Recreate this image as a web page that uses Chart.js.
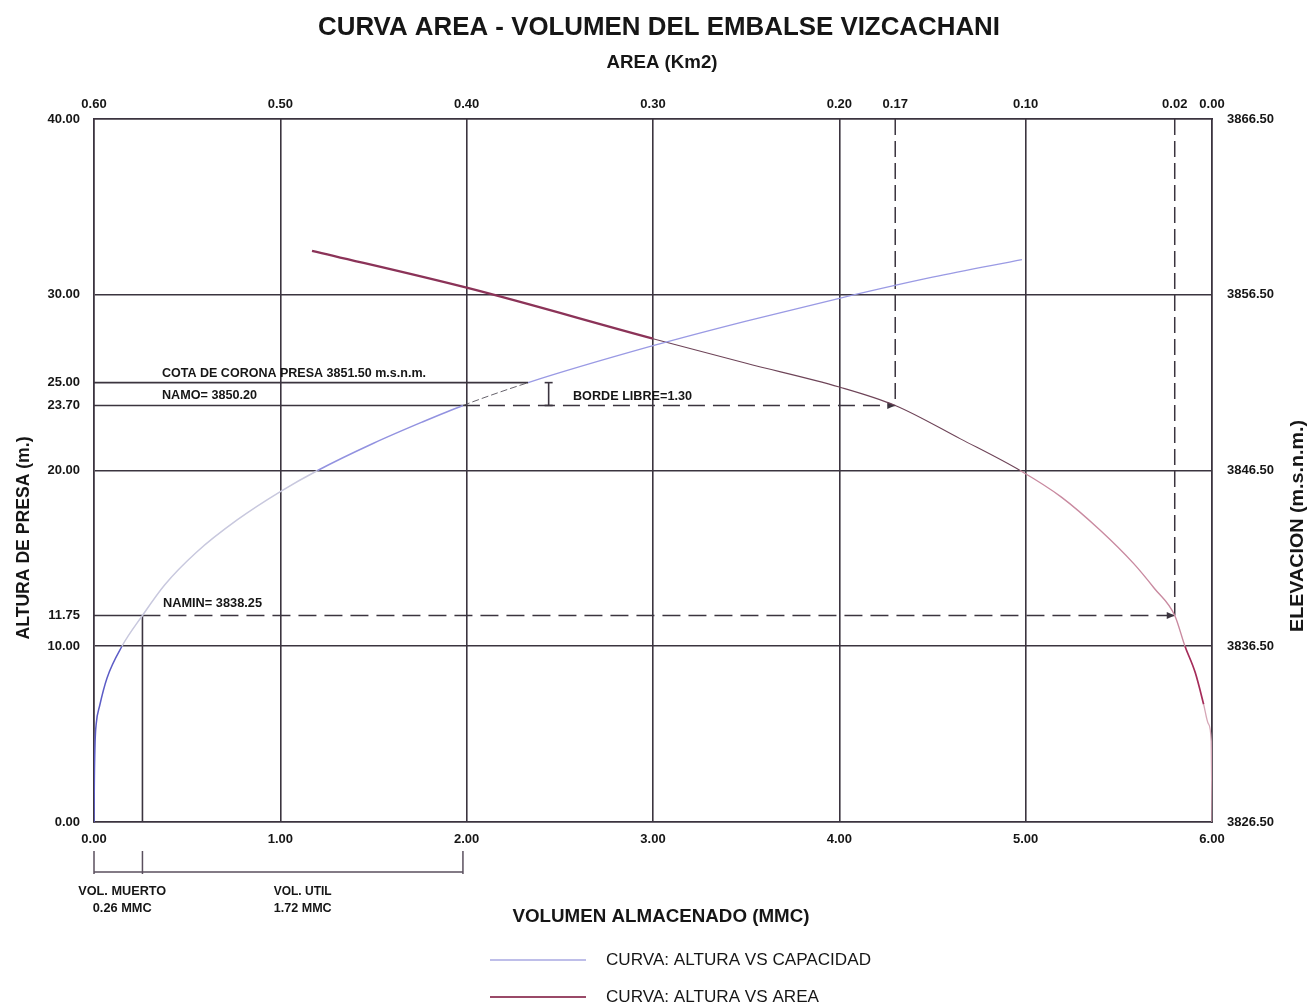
<!DOCTYPE html>
<html><head><meta charset="utf-8">
<script src="https://cdn.jsdelivr.net/npm/chart.js@4.4.1/dist/chart.umd.min.js"></script>
<style>html,body{margin:0;padding:0;background:#fff;overflow:hidden}canvas{display:block}</style>
</head><body>
<canvas id="c" width="1311" height="1007"></canvas>
<script>
// ---------- data ----------
const TITLE = 'CURVA AREA - VOLUMEN DEL EMBALSE VIZCACHANI';
const TOP_AXIS_TITLE = 'AREA (Km2)';
const BOTTOM_AXIS_TITLE = 'VOLUMEN ALMACENADO (MMC)';
const LEFT_AXIS_TITLE = 'ALTURA DE PRESA (m.)';
const RIGHT_AXIS_TITLE = 'ELEVACION (m.s.n.m.)';

const VOL_TICKS = [0, 1, 2, 3, 4, 5, 6];
const AREA_TICKS = [0.60, 0.50, 0.40, 0.30, 0.20, 0.17, 0.10, 0.02, 0.00];
const ALT_TICKS = [0, 10, 11.75, 20, 23.7, 25, 30, 40];
const ALT_GRID = [10, 20, 30];
const ELEV_TICKS = [3826.5, 3836.5, 3846.5, 3856.5, 3866.5];

// Curva altura vs capacidad (volumen MMC, altura m)
const CAP_VOL = [0, 0.002, 0.006, 0.012, 0.03, 0.07, 0.15, 0.26, 0.38, 0.55, 0.77, 1.00, 1.20, 1.50, 1.76, 1.98, 2.33, 3.00, 3.50, 4.00, 4.50, 4.98];
const CAP_H   = [0, 2.5, 4.6, 5.6, 6.6, 8.2, 10.0, 11.75, 13.5, 15.35, 17.2, 18.8, 20.0, 21.55, 22.75, 23.7, 25.0, 27.1, 28.5, 29.8, 31.0, 32.0];

// Curva altura vs area (area Km2, altura m)
const AREA_KM2 = [0.000, 0.0004, 0.002, 0.0045, 0.009, 0.0145, 0.020, 0.031, 0.042, 0.060, 0.081, 0.103, 0.135, 0.170, 0.200, 0.250, 0.300, 0.400, 0.483];
const AREA_H   = [0.0, 4.6, 5.6, 6.7, 8.5, 10.0, 11.75, 13.3, 14.7, 16.6, 18.5, 20.0, 21.8, 23.7, 24.75, 26.1, 27.5, 30.4, 32.5];

// niveles caracteristicos
const CORONA_H = 25.0, CORONA_VOL = 2.33;
const NAMO_H = 23.7, NAMIN_H = 11.75;
const VOL_MUERTO = 0.26, VOL_UTIL = 1.72;
const AREA_NAMO = 0.17, AREA_NAMIN = 0.02;
const COTA_CORONA = '3851.50', COTA_NAMO = '3850.20', COTA_NAMIN = '3838.25', BORDE_LIBRE = '1.30';

// ---------- style ----------
const FONT = "'Liberation Sans', Arial, sans-serif";
const GRID = '#3b343f';
const TXT = '#161616';
const CAP_COLOR = '#a4a4e4';
const AREA_COLOR = '#8b3358';

function capSeg(ctx) {
  const v = ctx.p0.parsed.x;
  if (v < 0.15) return {c: '#5c5cc6', w: 1.5};
  if (v < 1.2) return {c: '#c8c8de', w: 1.5};
  if (v < 1.98) return {c: '#9292e0', w: 1.5};
  if (v < 2.33) return {c: '#55505a', w: 0.9, d: [7, 3]};
  return {c: '#9a9ae4', w: 1.3};
}
function areaSeg(ctx) {
  const a = ctx.p0.parsed.x;
  if (a >= 0.3) return {c: '#8b3358', w: 2.3};
  if (a >= 0.1) return {c: '#6e4458', w: 1.1};
  if (a >= 0.0145) return {c: '#c98aa0', w: 1.4};
  if (a >= 0.0045) return {c: '#a52c5a', w: 1.7};
  return {c: '#d6a6b6', w: 1.3};
}

const tickFont = {family: FONT, size: 13, weight: 'bold'};

function txt(ctx, s, x, y, o) {
  ctx.save();
  ctx.font = (o.weight || 'bold') + ' ' + o.size + 'px ' + FONT;
  ctx.fillStyle = o.color || TXT;
  ctx.textBaseline = 'middle';
  ctx.textAlign = o.align || 'left';
  ctx.translate(x, y);
  if (o.rot) ctx.rotate(o.rot);
  if (o.width) { const w = ctx.measureText(s).width; ctx.scale(o.width / w, 1); }
  ctx.fillText(s, 0, 0);
  ctx.restore();
}
function seg(ctx, x1, y1, x2, y2, dash) {
  ctx.beginPath(); ctx.setLineDash(dash || []);
  ctx.moveTo(x1, y1); ctx.lineTo(x2, y2); ctx.stroke();
}

const annotations = {
  id: 'annotations',
  beforeDatasetsDraw(chart) {
    const {ctx} = chart; const s = chart.scales;
    const X = v => s.x.getPixelForValue(v), XA = a => s.xArea.getPixelForValue(a), Y = h => s.y.getPixelForValue(h);
    ctx.save();
    ctx.strokeStyle = GRID; ctx.lineWidth = 1.6;
    const volNamo = VOL_MUERTO + VOL_UTIL;
    seg(ctx, X(0), Y(CORONA_H), X(CORONA_VOL), Y(CORONA_H));
    seg(ctx, X(0), Y(NAMO_H), X(volNamo), Y(NAMO_H));
    seg(ctx, X(0), Y(NAMIN_H), X(VOL_MUERTO), Y(NAMIN_H));
    seg(ctx, X(VOL_MUERTO), Y(0), X(VOL_MUERTO), Y(NAMIN_H));
    ctx.lineWidth = 1.5;
    seg(ctx, X(volNamo), Y(NAMO_H), XA(AREA_NAMO), Y(NAMO_H), [17, 8]);
    seg(ctx, XA(AREA_NAMO), Y(40), XA(AREA_NAMO), Y(NAMO_H), [16, 6]);
    seg(ctx, X(VOL_MUERTO), Y(NAMIN_H), XA(AREA_NAMIN), Y(NAMIN_H), [18, 8]);
    seg(ctx, XA(AREA_NAMIN), Y(40), XA(AREA_NAMIN), Y(NAMIN_H), [16, 6]);
    // small arrowheads at the corners
    ctx.fillStyle = GRID; ctx.setLineDash([]);
    [[XA(AREA_NAMO), Y(NAMO_H)], [XA(AREA_NAMIN), Y(NAMIN_H)]].forEach(([px, py]) => {
      ctx.beginPath(); ctx.moveTo(px, py); ctx.lineTo(px - 8, py - 3.5); ctx.lineTo(px - 8, py + 3.5); ctx.closePath(); ctx.fill();
    });
    // borde libre bar
    const bx = X(2.44);
    ctx.lineWidth = 1.6;
    seg(ctx, bx, Y(CORONA_H), bx, Y(NAMO_H));
    seg(ctx, bx - 4, Y(CORONA_H), bx + 4, Y(CORONA_H));
    seg(ctx, bx - 4, Y(NAMO_H), bx + 4, Y(NAMO_H));
    // volume brackets below the axis
    const yb = Y(0);
    ctx.lineWidth = 1.5; ctx.strokeStyle = '#5a4f5e';
    [0, VOL_MUERTO, volNamo].forEach(v => seg(ctx, X(v), yb + 29, X(v), yb + 52));
    seg(ctx, X(0), yb + 50, X(volNamo), yb + 50);
    ctx.restore();
  },
  afterDraw(chart) {
    const {ctx} = chart; const s = chart.scales;
    const X = v => s.x.getPixelForValue(v);
    txt(ctx, TITLE, 659, 28, {size: 26, width: 682, align: 'center'});
    txt(ctx, TOP_AXIS_TITLE, 662, 63, {size: 19, width: 111, align: 'center'});
    txt(ctx, BOTTOM_AXIS_TITLE, 661, 917, {size: 19, width: 297, align: 'center'});
    txt(ctx, LEFT_AXIS_TITLE, 24, 538, {size: 18, width: 203, align: 'center', rot: -Math.PI / 2});
    txt(ctx, RIGHT_AXIS_TITLE, 1298, 526, {size: 18, width: 212, align: 'center', rot: -Math.PI / 2});
    txt(ctx, 'COTA DE CORONA PRESA ' + COTA_CORONA + ' m.s.n.m.', 162, 373, {size: 13, width: 264});
    txt(ctx, 'NAMO= ' + COTA_NAMO, 162, 395, {size: 13, width: 95});
    txt(ctx, 'BORDE LIBRE=' + BORDE_LIBRE, 573, 396, {size: 13, width: 119});
    txt(ctx, 'NAMIN= ' + COTA_NAMIN, 163, 603, {size: 13, width: 99});
    const xm = (X(0) + X(VOL_MUERTO)) / 2 + 4, xu = X(1.12);
    txt(ctx, 'VOL. MUERTO', xm, 891, {size: 13, width: 88, align: 'center'});
    txt(ctx, VOL_MUERTO.toFixed(2) + ' MMC', xm, 908, {size: 13, width: 59, align: 'center'});
    txt(ctx, 'VOL. UTIL', xu, 891, {size: 13, width: 58, align: 'center'});
    txt(ctx, VOL_UTIL.toFixed(2) + ' MMC', xu, 908, {size: 13, width: 58, align: 'center'});
    // legend
    const items = chart.data.datasets;
    const ly = [960, 997], lw = [265, 213];
    items.forEach((d, i) => {
      ctx.save();
      ctx.strokeStyle = d.legendColor; ctx.lineWidth = d.legendWidth;
      seg(ctx, 490, ly[i], 586, ly[i]);
      ctx.restore();
      txt(ctx, d.label, 606, ly[i], {size: 16.5, weight: 'normal', width: lw[i]});
    });
  }
};

const setTicks = list => scale => { scale.ticks = list.map(v => ({value: v})); };

new Chart(document.getElementById('c'), {
  type: 'line',
  data: {
    datasets: [
      {
        label: 'CURVA: ALTURA VS CAPACIDAD',
        data: CAP_VOL.map((v, i) => ({x: v, y: CAP_H[i]})),
        xAxisID: 'x', yAxisID: 'y',
        borderColor: CAP_COLOR, borderWidth: 1.5, pointRadius: 0,
        cubicInterpolationMode: 'monotone', fill: false,
        legendColor: '#a8a8e2', legendWidth: 1.4,
        segment: {
          borderColor: c => capSeg(c).c,
          borderWidth: c => capSeg(c).w,
          borderDash: c => capSeg(c).d || []
        }
      },
      {
        label: 'CURVA: ALTURA VS AREA',
        data: AREA_KM2.map((a, i) => ({x: a, y: AREA_H[i]})),
        xAxisID: 'xArea', yAxisID: 'y',
        borderColor: AREA_COLOR, borderWidth: 1.5, pointRadius: 0,
        cubicInterpolationMode: 'monotone', fill: false,
        legendColor: '#9a4a68', legendWidth: 2,
        segment: {
          borderColor: c => areaSeg(c).c,
          borderWidth: c => areaSeg(c).w
        }
      }
    ]
  },
  options: {
    responsive: false, animation: false, devicePixelRatio: 1,
    layout: {padding: 0},
    plugins: {legend: {display: false}, title: {display: false}, tooltip: {enabled: false}},
    scales: {
      x: {
        type: 'linear', position: 'bottom', min: 0, max: 6,
        afterBuildTicks: setTicks(VOL_TICKS),
        afterFit: s => { s.height = 185; },
        ticks: {callback: v => v.toFixed(2), font: tickFont, color: TXT, padding: 10, autoSkip: false, maxRotation: 0},
        grid: {drawTicks: false, lineWidth: 1.6, color: c => (c.tick && c.tick.value > 0 && c.tick.value < 6) ? GRID : 'rgba(0,0,0,0)'},
        border: {display: true, color: GRID, width: 1.8}
      },
      xArea: {
        type: 'linear', position: 'top', min: 0, max: 0.6, reverse: true,
        afterBuildTicks: setTicks(AREA_TICKS),
        afterFit: s => { s.height = 119; },
        ticks: {callback: v => v.toFixed(2), font: tickFont, color: TXT, padding: 7, autoSkip: false, maxRotation: 0},
        grid: {display: false, drawTicks: false},
        border: {display: true, color: GRID, width: 1.8}
      },
      y: {
        type: 'linear', position: 'left', min: 0, max: 40,
        afterBuildTicks: setTicks(ALT_TICKS),
        afterFit: s => { s.width = 94; },
        ticks: {callback: v => v.toFixed(2), font: tickFont, color: TXT, padding: 14, autoSkip: false},
        grid: {drawTicks: false, lineWidth: 1.6, color: c => (c.tick && ALT_GRID.includes(c.tick.value)) ? GRID : 'rgba(0,0,0,0)'},
        border: {display: true, color: GRID, width: 1.8}
      },
      yElev: {
        type: 'linear', position: 'right', min: ELEV_TICKS[0], max: ELEV_TICKS[ELEV_TICKS.length - 1],
        afterBuildTicks: setTicks(ELEV_TICKS),
        afterFit: s => { s.width = 99; },
        ticks: {callback: v => v.toFixed(2), font: tickFont, color: TXT, padding: 15, autoSkip: false},
        grid: {display: false, drawTicks: false},
        border: {display: true, color: GRID, width: 1.8}
      }
    }
  },
  plugins: [annotations]
});
</script>
</body></html>
